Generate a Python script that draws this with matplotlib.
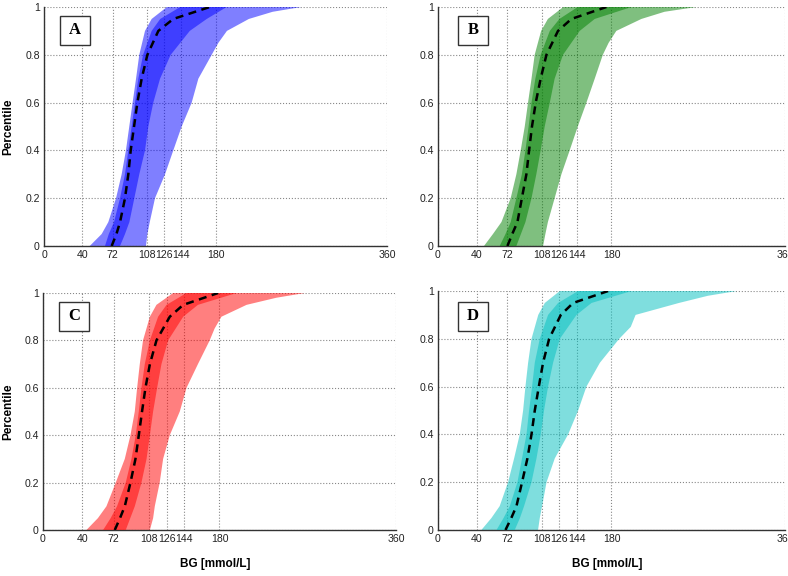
import numpy as np
import matplotlib.pyplot as plt
from matplotlib.patches import Rectangle

plt.rcParams['font.family'] = ['Liberation Sans', 'DejaVu Sans']

# percentile levels (y) at which the band edges were read
pct = [0, 0.05, 0.1, 0.2, 0.3, 0.4, 0.5, 0.6, 0.7, 0.8, 0.9, 0.95, 1.0]
pct_edge = [0, 0.05, 0.1, 0.2, 0.3, 0.4, 0.5, 0.6, 0.7, 0.8, 0.85, 0.9, 0.95, 0.98, 1.0]

xticks = [0, 40, 72, 108, 126, 144, 180, 360]
yticks = [0, 0.2, 0.4, 0.6, 0.8, 1]
ytick_labels = ['0', '0.2', '0.4', '0.6', '0.8', '1']

panel_names = ['A', 'B', 'C', 'D']
panel_colors = ['#0000ff', '#008000', '#ff0000', '#00bfbf']

a_outer_lo = [48, 60.5, 67.5, 75.6, 81.5, 86, 89.5, 93, 96.6, 100, 106, 113, 129]
a_inner_lo = [64, 68, 73.5, 79.8, 85, 88.5, 92, 95.5, 99, 104, 113, 122, 143]
a_median = [71, 76, 79.8, 85, 88.5, 91, 94.5, 98, 102.5, 108.5, 120, 135.7, 174]
a_inner_hi = [79.8, 85, 89.6, 94.8, 100, 106, 109.5, 114.7, 121.8, 133, 153, 170.8, 191.7]
a_outer_hi = [107, 108.5, 111, 116.5, 127, 135.7, 144.5, 155, 162, 176, 183, 192, 215, 240, 270]

b_outer_lo = [47.7, 57, 65.8, 75.4, 81.3, 85.8, 90, 93.4, 97, 100.3, 107, 114, 130]
b_inner_lo = [64, 70, 75.4, 81.3, 87, 90.7, 94, 97, 101, 106.5, 116, 126, 145]
b_median = [72, 77, 82.4, 87, 91.7, 94.5, 97.5, 101.4, 106.5, 112.5, 124.5, 138.4, 174.7]
b_inner_hi = [81.3, 86, 90.7, 97, 102, 106.5, 110.7, 116, 121, 129.7, 147, 162.6, 200.7]
b_outer_hi = [109, 111.4, 114, 121, 128, 136.6, 145, 154, 162.6, 171, 177, 185, 211, 235, 268]

c_outer_lo = [44.3, 56, 64.7, 74.2, 83.4, 89.2, 93.6, 96, 98.7, 102, 109, 115.7, 132.7]
c_inner_lo = [61.3, 69, 75.5, 84.4, 90.2, 94.6, 97.7, 100.4, 103.8, 109, 117.4, 126, 146.4]
c_median = [73.2, 78.5, 83.4, 89.2, 94.3, 97.7, 101, 104.5, 109, 115.7, 129.3, 143, 178.6]
c_inner_hi = [84.4, 89, 93.6, 100.4, 105.6, 109, 112.3, 116.4, 120.8, 127.6, 143, 158, 197.4]
c_outer_hi = [109, 112.3, 114, 119, 122.5, 129.3, 139.5, 146.4, 158, 170, 175, 182, 207.6, 238, 267]

d_outer_lo = [45, 55.4, 64, 72.7, 79, 84.8, 88.3, 90.7, 93.5, 97, 104, 110.8, 126.4]
d_inner_lo = [60.7, 68, 74.5, 82.4, 87.2, 91.8, 94.5, 97.6, 100.4, 105.6, 114.2, 124.6, 145.4]
d_median = [70, 76, 81.4, 87.2, 92.8, 97, 100.4, 104.6, 109, 115.3, 127.4, 140.2, 176.5]
d_inner_hi = [79.6, 85, 89.3, 97, 102.2, 106.6, 110, 114.2, 119.4, 126.4, 143.7, 159.3, 200.8]
d_outer_hi = [103.8, 105.6, 108, 112.6, 121.2, 135, 145.4, 154, 168, 188, 200, 205, 250, 280, 310]

panels = [
    (a_outer_lo, a_inner_lo, a_median, a_inner_hi, a_outer_hi),
    (b_outer_lo, b_inner_lo, b_median, b_inner_hi, b_outer_hi),
    (c_outer_lo, c_inner_lo, c_median, c_inner_hi, c_outer_hi),
    (d_outer_lo, d_inner_lo, d_median, d_inner_hi, d_outer_hi),
]

W, H = 788, 576
fig = plt.figure(figsize=(W / 100, H / 100), dpi=100)

# axes boxes in pixels: left, right, top, bottom
boxes = [(44, 387, 7, 246), (438, 785, 7, 246), (43, 396, 293, 530), (438, 785, 291, 530)]
label_off = [(16, 9), (20, 9), (16, 9), (20, 11)]

for k in range(4):
    l, r, t, b = boxes[k]
    ax = fig.add_axes([l / W, 1 - b / H, (r - l) / W, (b - t) / H])
    outer_lo, inner_lo, median, inner_hi, outer_hi = panels[k]
    col = panel_colors[k]

    ax.fill(np.r_[outer_lo, outer_hi[::-1]], np.r_[pct, pct_edge[::-1]],
            color=col, alpha=0.5, lw=0, zorder=2)
    ax.fill(np.r_[inner_lo, inner_hi[::-1]], np.r_[pct, pct[::-1]],
            color=col, alpha=0.5, lw=0, zorder=3)
    ax.plot(median, pct, color='black', lw=1.8, ls=(0, (3.2, 2.2)), zorder=4)

    ax.set_xlim(0, 360)
    ax.set_ylim(0, 1)
    ax.set_xticks(xticks)
    ax.set_yticks(yticks)
    ax.set_yticklabels(ytick_labels)
    ax.tick_params(labelsize=7.6, length=0, pad=3, colors='#222222')
    ax.grid(True, ls=':', color='#888888', lw=0.8, zorder=1)
    ax.set_axisbelow(True)
    for s in ['top', 'right']:
        ax.spines[s].set_visible(False)
    for s in ['left', 'bottom']:
        ax.spines[s].set_color('#333333')
        ax.spines[s].set_linewidth(1.0)

    # panel letter in a box
    ox, oy = label_off[k]
    aw, ah = r - l, b - t
    bx, by = ox / aw, 1 - (oy + 29) / ah
    ax.add_patch(Rectangle((bx, by), 30 / aw, 29 / ah, transform=ax.transAxes,
                           facecolor='white', edgecolor='#333333', lw=1.0, zorder=5))
    ax.text(bx + 15 / aw, by + 14.5 / ah, panel_names[k], transform=ax.transAxes,
            ha='center', va='center', fontsize=12, fontweight='bold',
            family='Liberation Serif', zorder=6)

    if k in (0, 2):
        fig.text(8 / W, 1 - (t + b) / 2 / H, 'Percentile', rotation=90,
                 ha='center', va='center', fontsize=8.5, fontweight='bold')
    if k in (2, 3):
        fig.text((l + r) / 2 / W - 4 / W, 1 - 564 / H, 'BG [mmol/L]',
                 ha='center', va='center', fontsize=8.5, fontweight='bold')

fig.savefig('out.png', dpi=100)
